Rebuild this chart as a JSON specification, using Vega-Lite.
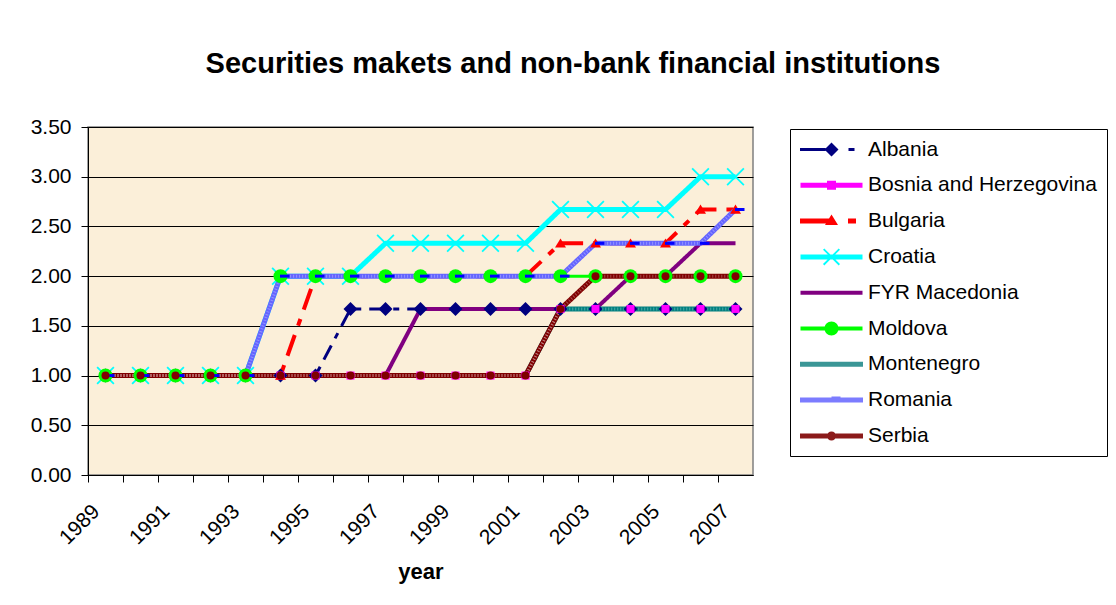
{
  "$schema": "https://vega.github.io/schema/vega-lite/v6.json",
  "autosize": {"type": "none"},
  "padding": {"left": 88, "top": 127, "right": 363, "bottom": 130},
  "width": 665,
  "height": 348,
  "background": "white",
  "title": {"text": "Securities makets and non-bank financial institutions", "anchor": "middle", "dx": 152.5, "offset": 14, "baseline": "alphabetic", "fontSize": 29, "font": "Liberation Sans", "fontWeight": "bold", "color": "black"},
  "config": {
    "font": "Liberation Sans",
    "view": {"fill": "#FBEFD9", "stroke": "#808080", "strokeWidth": 1.5},
    "legend": {"title": null, "orient": "none", "legendX": 702, "legendY": 2, "strokeColor": "black", "strokeWidth": 1, "fillColor": "white", "padding": 10, "symbolSize": 100, "symbolOffset": 21, "symbolStrokeWidth": 0, "symbolOpacity": 1, "labelFontSize": 21, "labelFont": "Liberation Sans", "labelColor": "black", "labelOffset": 26, "rowPadding": 13.8, "labelLimit": 400, "direction": "vertical"}
  },
  "data": {"values": [
    {"country": "Albania", "year": 1989, "value": 1}, {"country": "Albania", "year": 1990, "value": 1}, {"country": "Albania", "year": 1991, "value": 1}, {"country": "Albania", "year": 1992, "value": 1}, {"country": "Albania", "year": 1993, "value": 1}, {"country": "Albania", "year": 1994, "value": 1}, {"country": "Albania", "year": 1995, "value": 1}, {"country": "Albania", "year": 1996, "value": 1.67}, {"country": "Albania", "year": 1997, "value": 1.67}, {"country": "Albania", "year": 1998, "value": 1.67}, {"country": "Albania", "year": 1999, "value": 1.67}, {"country": "Albania", "year": 2000, "value": 1.67}, {"country": "Albania", "year": 2001, "value": 1.67}, {"country": "Albania", "year": 2002, "value": 1.67}, {"country": "Albania", "year": 2003, "value": 1.67}, {"country": "Albania", "year": 2004, "value": 1.67}, {"country": "Albania", "year": 2005, "value": 1.67}, {"country": "Albania", "year": 2006, "value": 1.67}, {"country": "Albania", "year": 2007, "value": 1.67},
    {"country": "Bosnia and Herzegovina", "year": 1989, "value": 1}, {"country": "Bosnia and Herzegovina", "year": 1990, "value": 1}, {"country": "Bosnia and Herzegovina", "year": 1991, "value": 1}, {"country": "Bosnia and Herzegovina", "year": 1992, "value": 1}, {"country": "Bosnia and Herzegovina", "year": 1993, "value": 1}, {"country": "Bosnia and Herzegovina", "year": 1994, "value": 1}, {"country": "Bosnia and Herzegovina", "year": 1995, "value": 1}, {"country": "Bosnia and Herzegovina", "year": 1996, "value": 1}, {"country": "Bosnia and Herzegovina", "year": 1997, "value": 1}, {"country": "Bosnia and Herzegovina", "year": 1998, "value": 1}, {"country": "Bosnia and Herzegovina", "year": 1999, "value": 1}, {"country": "Bosnia and Herzegovina", "year": 2000, "value": 1}, {"country": "Bosnia and Herzegovina", "year": 2001, "value": 1}, {"country": "Bosnia and Herzegovina", "year": 2002, "value": 1.67}, {"country": "Bosnia and Herzegovina", "year": 2003, "value": 1.67}, {"country": "Bosnia and Herzegovina", "year": 2004, "value": 1.67}, {"country": "Bosnia and Herzegovina", "year": 2005, "value": 1.67}, {"country": "Bosnia and Herzegovina", "year": 2006, "value": 1.67}, {"country": "Bosnia and Herzegovina", "year": 2007, "value": 1.67},
    {"country": "Bulgaria", "year": 1989, "value": 1}, {"country": "Bulgaria", "year": 1990, "value": 1}, {"country": "Bulgaria", "year": 1991, "value": 1}, {"country": "Bulgaria", "year": 1992, "value": 1}, {"country": "Bulgaria", "year": 1993, "value": 1}, {"country": "Bulgaria", "year": 1994, "value": 1}, {"country": "Bulgaria", "year": 1995, "value": 2}, {"country": "Bulgaria", "year": 1996, "value": 2}, {"country": "Bulgaria", "year": 1997, "value": 2}, {"country": "Bulgaria", "year": 1998, "value": 2}, {"country": "Bulgaria", "year": 1999, "value": 2}, {"country": "Bulgaria", "year": 2000, "value": 2}, {"country": "Bulgaria", "year": 2001, "value": 2}, {"country": "Bulgaria", "year": 2002, "value": 2.33}, {"country": "Bulgaria", "year": 2003, "value": 2.33}, {"country": "Bulgaria", "year": 2004, "value": 2.33}, {"country": "Bulgaria", "year": 2005, "value": 2.33}, {"country": "Bulgaria", "year": 2006, "value": 2.67}, {"country": "Bulgaria", "year": 2007, "value": 2.67},
    {"country": "Croatia", "year": 1989, "value": 1}, {"country": "Croatia", "year": 1990, "value": 1}, {"country": "Croatia", "year": 1991, "value": 1}, {"country": "Croatia", "year": 1992, "value": 1}, {"country": "Croatia", "year": 1993, "value": 1}, {"country": "Croatia", "year": 1994, "value": 2}, {"country": "Croatia", "year": 1995, "value": 2}, {"country": "Croatia", "year": 1996, "value": 2}, {"country": "Croatia", "year": 1997, "value": 2.33}, {"country": "Croatia", "year": 1998, "value": 2.33}, {"country": "Croatia", "year": 1999, "value": 2.33}, {"country": "Croatia", "year": 2000, "value": 2.33}, {"country": "Croatia", "year": 2001, "value": 2.33}, {"country": "Croatia", "year": 2002, "value": 2.67}, {"country": "Croatia", "year": 2003, "value": 2.67}, {"country": "Croatia", "year": 2004, "value": 2.67}, {"country": "Croatia", "year": 2005, "value": 2.67}, {"country": "Croatia", "year": 2006, "value": 3}, {"country": "Croatia", "year": 2007, "value": 3},
    {"country": "FYR Macedonia", "year": 1989, "value": 1}, {"country": "FYR Macedonia", "year": 1990, "value": 1}, {"country": "FYR Macedonia", "year": 1991, "value": 1}, {"country": "FYR Macedonia", "year": 1992, "value": 1}, {"country": "FYR Macedonia", "year": 1993, "value": 1}, {"country": "FYR Macedonia", "year": 1994, "value": 1}, {"country": "FYR Macedonia", "year": 1995, "value": 1}, {"country": "FYR Macedonia", "year": 1996, "value": 1}, {"country": "FYR Macedonia", "year": 1997, "value": 1}, {"country": "FYR Macedonia", "year": 1998, "value": 1.67}, {"country": "FYR Macedonia", "year": 1999, "value": 1.67}, {"country": "FYR Macedonia", "year": 2000, "value": 1.67}, {"country": "FYR Macedonia", "year": 2001, "value": 1.67}, {"country": "FYR Macedonia", "year": 2002, "value": 1.67}, {"country": "FYR Macedonia", "year": 2003, "value": 1.67}, {"country": "FYR Macedonia", "year": 2004, "value": 2}, {"country": "FYR Macedonia", "year": 2005, "value": 2}, {"country": "FYR Macedonia", "year": 2006, "value": 2.33}, {"country": "FYR Macedonia", "year": 2007, "value": 2.33},
    {"country": "Moldova", "year": 1989, "value": 1}, {"country": "Moldova", "year": 1990, "value": 1}, {"country": "Moldova", "year": 1991, "value": 1}, {"country": "Moldova", "year": 1992, "value": 1}, {"country": "Moldova", "year": 1993, "value": 1}, {"country": "Moldova", "year": 1994, "value": 2}, {"country": "Moldova", "year": 1995, "value": 2}, {"country": "Moldova", "year": 1996, "value": 2}, {"country": "Moldova", "year": 1997, "value": 2}, {"country": "Moldova", "year": 1998, "value": 2}, {"country": "Moldova", "year": 1999, "value": 2}, {"country": "Moldova", "year": 2000, "value": 2}, {"country": "Moldova", "year": 2001, "value": 2}, {"country": "Moldova", "year": 2002, "value": 2}, {"country": "Moldova", "year": 2003, "value": 2}, {"country": "Moldova", "year": 2004, "value": 2}, {"country": "Moldova", "year": 2005, "value": 2}, {"country": "Moldova", "year": 2006, "value": 2}, {"country": "Moldova", "year": 2007, "value": 2},
    {"country": "Montenegro", "year": 1989, "value": 1}, {"country": "Montenegro", "year": 1990, "value": 1}, {"country": "Montenegro", "year": 1991, "value": 1}, {"country": "Montenegro", "year": 1992, "value": 1}, {"country": "Montenegro", "year": 1993, "value": 1}, {"country": "Montenegro", "year": 1994, "value": 1}, {"country": "Montenegro", "year": 1995, "value": 1}, {"country": "Montenegro", "year": 1996, "value": 1}, {"country": "Montenegro", "year": 1997, "value": 1}, {"country": "Montenegro", "year": 1998, "value": 1}, {"country": "Montenegro", "year": 1999, "value": 1}, {"country": "Montenegro", "year": 2000, "value": 1}, {"country": "Montenegro", "year": 2001, "value": 1}, {"country": "Montenegro", "year": 2002, "value": 1.67}, {"country": "Montenegro", "year": 2003, "value": 1.67}, {"country": "Montenegro", "year": 2004, "value": 1.67}, {"country": "Montenegro", "year": 2005, "value": 1.67}, {"country": "Montenegro", "year": 2006, "value": 1.67}, {"country": "Montenegro", "year": 2007, "value": 1.67},
    {"country": "Romania", "year": 1989, "value": 1}, {"country": "Romania", "year": 1990, "value": 1}, {"country": "Romania", "year": 1991, "value": 1}, {"country": "Romania", "year": 1992, "value": 1}, {"country": "Romania", "year": 1993, "value": 1}, {"country": "Romania", "year": 1994, "value": 2}, {"country": "Romania", "year": 1995, "value": 2}, {"country": "Romania", "year": 1996, "value": 2}, {"country": "Romania", "year": 1997, "value": 2}, {"country": "Romania", "year": 1998, "value": 2}, {"country": "Romania", "year": 1999, "value": 2}, {"country": "Romania", "year": 2000, "value": 2}, {"country": "Romania", "year": 2001, "value": 2}, {"country": "Romania", "year": 2002, "value": 2}, {"country": "Romania", "year": 2003, "value": 2.33}, {"country": "Romania", "year": 2004, "value": 2.33}, {"country": "Romania", "year": 2005, "value": 2.33}, {"country": "Romania", "year": 2006, "value": 2.33}, {"country": "Romania", "year": 2007, "value": 2.67},
    {"country": "Serbia", "year": 1989, "value": 1}, {"country": "Serbia", "year": 1990, "value": 1}, {"country": "Serbia", "year": 1991, "value": 1}, {"country": "Serbia", "year": 1992, "value": 1}, {"country": "Serbia", "year": 1993, "value": 1}, {"country": "Serbia", "year": 1994, "value": 1}, {"country": "Serbia", "year": 1995, "value": 1}, {"country": "Serbia", "year": 1996, "value": 1}, {"country": "Serbia", "year": 1997, "value": 1}, {"country": "Serbia", "year": 1998, "value": 1}, {"country": "Serbia", "year": 1999, "value": 1}, {"country": "Serbia", "year": 2000, "value": 1}, {"country": "Serbia", "year": 2001, "value": 1}, {"country": "Serbia", "year": 2002, "value": 1.67}, {"country": "Serbia", "year": 2003, "value": 2}, {"country": "Serbia", "year": 2004, "value": 2}, {"country": "Serbia", "year": 2005, "value": 2}, {"country": "Serbia", "year": 2006, "value": 2}, {"country": "Serbia", "year": 2007, "value": 2}
  ]},
  "encoding": {
    "x": {"field": "year", "type": "ordinal", "bandPosition": 0.5, "scale": {"type": "band", "paddingInner": 0, "paddingOuter": 0},
      "axis": {"title": "year", "bandPosition": 0, "labelExpr": "datum.value % 2 == 1 ? datum.label : ''", "labelOverlap": false, "labelAngle": -45, "labelAlign": "right", "labelBaseline": "middle", "labelPadding": 26, "labelOffset": -9, "labelFontSize": 21, "labelColor": "black", "tickSize": 7, "tickColor": "black", "domainColor": "black", "grid": false, "titleFontSize": 22, "titleFontWeight": "bold", "titleColor": "black", "titleY": 103, "titleBaseline": "alphabetic"}},
    "y": {"field": "value", "type": "quantitative", "scale": {"domain": [0, 3.5]},
      "axis": {"title": null, "values": [0, 0.5, 1, 1.5, 2, 2.5, 3, 3.5], "format": ".2f", "labelFontSize": 21, "labelColor": "black", "labelPadding": 10, "tickSize": 7, "tickColor": "black", "domainColor": "black", "grid": true, "gridColor": "black", "gridWidth": 1}}
  },
  "layer": [
    {
      "mark": {"type": "line", "strokeJoin": "round"},
      "encoding": {
        "stroke": {"field": "country", "type": "nominal", "legend": null, "scale": {"domain": ["Albania", "Bosnia and Herzegovina", "Bulgaria", "Croatia", "FYR Macedonia", "Moldova", "Montenegro", "Romania", "Serbia"], "range": ["#000080", "#FF00FF", "#FF0000", "#00FFFF", "#800080", "#00FF00", "#008080", "#6464FF", "#800000"]}},
        "strokeDash": {"field": "country", "type": "nominal", "legend": null, "scale": {"domain": ["Albania", "Bosnia and Herzegovina", "Bulgaria", "Croatia", "FYR Macedonia", "Moldova", "Montenegro", "Romania", "Serbia"], "range": [[16, 8, 6, 8], [1, 0], [22, 10, 7, 10], [1, 0], [1, 0], [1, 0], [1, 0], [1, 0], [1, 0]]}},
        "strokeWidth": {"field": "country", "type": "ordinal", "legend": null, "scale": {"type": "ordinal", "domain": ["Albania", "Bosnia and Herzegovina", "Bulgaria", "Croatia", "FYR Macedonia", "Moldova", "Montenegro", "Romania", "Serbia"], "range": [3, 3, 4, 5, 4, 3, 5, 5, 5]}}
      }
    },
    {
      "transform": [{"filter": {"field": "country", "oneOf": ["Montenegro", "Romania", "Serbia"]}}],
      "mark": {"type": "line", "color": "white", "strokeDash": [1, 2], "strokeWidth": 3, "opacity": 0.3},
      "encoding": {"detail": {"field": "country", "type": "nominal"}}
    },
    {
      "transform": [{"filter": {"field": "country", "equal": "Albania"}}],
      "mark": {"type": "point", "shape": "diamond", "filled": true, "opacity": 1, "strokeWidth": 0, "size": 196, "fill": "#000080"}
    },
    {
      "transform": [{"filter": {"field": "country", "equal": "Bosnia and Herzegovina"}}],
      "mark": {"type": "point", "shape": "square", "filled": true, "opacity": 1, "strokeWidth": 0, "size": 64, "fill": "#FF00FF"}
    },
    {
      "transform": [{"filter": {"field": "country", "equal": "Bulgaria"}}],
      "mark": {"type": "point", "shape": "M-1,0.75L0,-0.9L1,0.75Z", "filled": true, "opacity": 1, "strokeWidth": 0, "size": 121, "fill": "#FF0000"}
    },
    {
      "transform": [{"filter": {"field": "country", "equal": "Croatia"}}],
      "mark": {"type": "point", "shape": "M-1,-0.86L-0.86,-1L1,0.86L0.86,1Z M0.86,-1L1,-0.86L-0.86,1L-1,0.86Z", "filled": true, "opacity": 1, "strokeWidth": 0, "size": 324, "fill": "#00FFFF"}
    },
    {
      "transform": [{"filter": {"field": "country", "equal": "Moldova"}}],
      "mark": {"type": "point", "shape": "circle", "filled": true, "opacity": 1, "strokeWidth": 0, "size": 196, "fill": "#00FF00"}
    },
    {
      "transform": [{"filter": {"field": "country", "equal": "Romania"}}],
      "mark": {"type": "point", "shape": "M-0.1,-0.3H1.8V0.3H-0.1Z", "filled": true, "opacity": 1, "strokeWidth": 0, "size": 100, "fill": "#0000FF"}
    },
    {
      "transform": [{"filter": {"field": "country", "equal": "Serbia"}}],
      "mark": {"type": "point", "shape": "circle", "filled": true, "opacity": 1, "strokeWidth": 0, "size": 64, "fill": "#800000"}
    },
    {
      "transform": [{"filter": "false"}],
      "mark": {"type": "point", "filled": true, "opacity": 1, "strokeWidth": 0},
      "encoding": {
        "color": {"field": "country", "type": "nominal", "scale": {"domain": ["Albania", "Bosnia and Herzegovina", "Bulgaria", "Croatia", "FYR Macedonia", "Moldova", "Montenegro", "Romania", "Serbia"], "range": ["#000080", "#FF00FF", "#FF0000", "#00FFFF", "#800080", "#00FF00", "#3A9696", "#7C7CFF", "#8B1A1A"]}},
        "shape": {"field": "country", "type": "nominal", "scale": {"domain": ["Albania", "Bosnia and Herzegovina", "Bulgaria", "Croatia", "FYR Macedonia", "Moldova", "Montenegro", "Romania", "Serbia"], "range": [
          "M-6.3,-0.3H-1.2V0.3H-6.3Z M-1.4,0L0,-1.4L1.4,0L0,1.4Z M3.4,-0.3H4.6V0.3H3.4Z",
          "M-6.2,-0.5H6.2V0.5H-6.2Z M-0.9,-0.9H0.9V0.9H-0.9Z",
          "M-6.3,-0.5H-0.3V0.5H-6.3Z M-1.3,0.8L0,-1.3L1.3,0.8Z M3.3,-0.5H4.9V0.5H3.3Z",
          "M-6.2,-0.5H6.2V0.5H-6.2Z M-1.7,-1.44L-1.44,-1.7L1.7,1.44L1.44,1.7Z M1.44,-1.7L1.7,-1.44L-1.44,1.7L-1.7,1.44Z",
          "M-6.2,-0.4H6.2V0.4H-6.2Z",
          "M-6.2,-0.4H6.2V0.4H-6.2Z M-1.4,0A1.4,1.4,0,1,1,1.4,0A1.4,1.4,0,1,1,-1.4,0Z",
          "M-6.3,-0.5H6.3V0.5H-6.3Z",
          "M-6.3,-0.5H6.3V0.5H-6.3Z M0,-0.7H1.8V0.2H0Z",
          "M-6.3,-0.5H6.3V0.5H-6.3Z M-0.9,0A0.9,0.9,0,1,1,0.9,0A0.9,0.9,0,1,1,-0.9,0Z"
        ]}}
      }
    }
  ],
  "resolve": {"scale": {"color": "independent", "shape": "independent"}, "legend": {"color": "independent", "shape": "independent"}}
}
